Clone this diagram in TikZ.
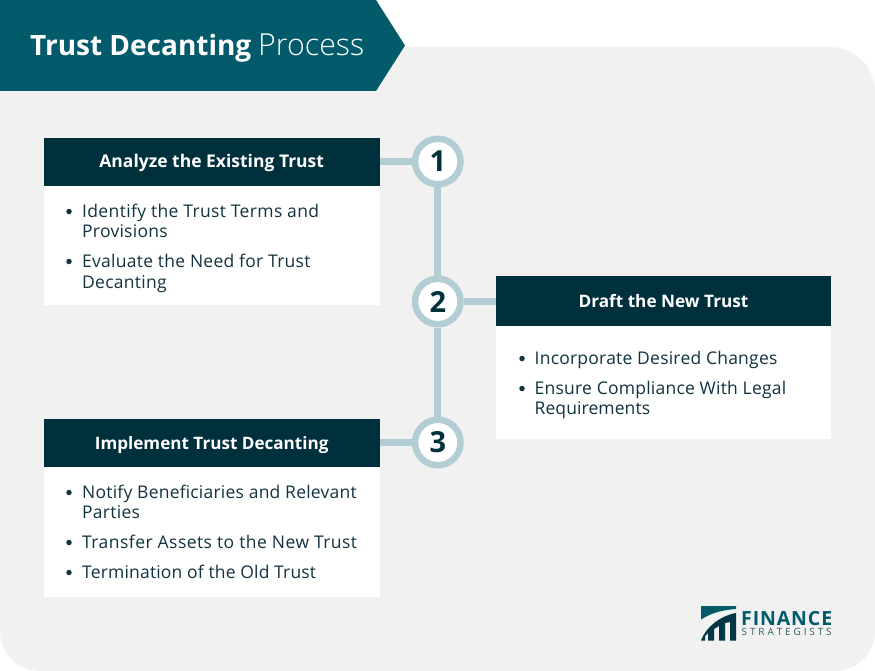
\documentclass[tikz,border=0pt]{standalone}
\usepackage{fontspec}
\setmainfont{Open Sans}
\newfontfamily\lightf{Open Sans Light}
\definecolor{teal1}{HTML}{025A6B}
\definecolor{navy}{HTML}{01303D}
\definecolor{ring}{HTML}{B2CDD4}
\definecolor{bgg}{HTML}{F1F1F1}
\definecolor{body}{HTML}{12333F}
\tikzset{
 x=1pt,y=-1pt,
 headbox/.style={fill=navy,draw=none},
 bodybox/.style={fill=white,draw=none},
 headtxt/.style={text=white,font=\fontsize{#1}{20}\selectfont\bfseries,anchor=center,inner sep=0pt},
 line/.style={text=body,font=\fontsize{17.5}{20}\selectfont\addfontfeatures{LetterSpace=#1},anchor=base west,inner sep=0pt},
 dot/.style={circle,fill=body,inner sep=0pt,minimum size=5.5pt},
 numc/.style={circle,draw=ring,line width=6.5pt,fill=white,minimum size=45.5pt,inner sep=0pt,text=navy,font=\fontsize{29}{30}\selectfont\bfseries},
 conn/.style={draw=ring,line width=6.7pt},
}
\begin{document}
\begin{tikzpicture}
\useasboundingbox (0,0) rectangle (875,671);
\fill[white] (0,0) rectangle (875,671);
\fill[bgg] (0,47) -- (830,47) arc[start angle=90,end angle=0,x radius=45,y radius=-45] -- (875,631) arc[start angle=0,end angle=-90,x radius=40,y radius=-40] -- (40,671) arc[start angle=-90,end angle=-180,x radius=40,y radius=-40] -- cycle;
\fill[teal1] (0,0) -- (376,0) -- (405,45.5) -- (376,91) -- (0,91) -- cycle;
\node[anchor=base west,inner sep=0pt,text=white] (title) at (30,56) {\fontsize{28}{32}\selectfont\bfseries Trust Decanting};
\node[anchor=base west,inner sep=0pt,text=white] (title2) at (258,56) {\fontsize{30.3}{32}\lightf\selectfont Process};
% connectors
\coordinate (h1) at (379,161.5);
\coordinate (h2) at (496,301.5);
\coordinate (h3) at (379,442.5);
\node[numc] (n1) at (437.8,161.5) {1};
\node[numc] (n2) at (437.8,301.5) {2};
\node[numc] (n3) at (437.8,442.5) {3};
\draw[conn] (n1) -- (n2);
\draw[conn] (n2) -- (n3);
\draw[conn] (n1) -- (h1);
\draw[conn] (n2) -- (h2);
\draw[conn] (n3) -- (h3);
% boxes
\fill[bodybox] (44,186) rectangle (379.5,305);
\fill[headbox] (44,138) rectangle (379.5,186);
\node[headtxt=17.5] (a) at (211.7,163) {Analyze the Existing Trust};
\fill[bodybox] (496,326) rectangle (831,439);
\fill[headbox] (496,275.5) rectangle (831,326);
\node[headtxt=17.2] (b) at (663.5,301.5) {Draft the New Trust};
\fill[bodybox] (44,467) rectangle (379.5,597);
\fill[headbox] (44,419) rectangle (379.5,467);
\node[headtxt=17.1] (c) at (211.7,445) {Implement Trust Decanting};
% text
\node[dot] (d1) at (69,211.5) {}; \node[line=2] (t1) at (82,218) {Identify the Trust Terms and};
\node[line=1.5] (t2) at (82,237.5) {Provisions};
\node[dot] (d2) at (69,261.5) {}; \node[line=1.5] (t3) at (82,267.5) {Evaluate the Need for Trust};
\node[line=1.5] (t4) at (82,288) {Decanting};
\node[dot] (d3) at (522,358.5) {}; \node[line=1.3] (t5) at (534.5,364) {Incorporate Desired Changes};
\node[dot] (d4) at (522,388.5) {}; \node[line=1.3] (t6) at (534.5,394) {Ensure Compliance With Legal};
\node[line=0.5] (t7) at (534.5,414) {Requirements};
\node[dot] (d5) at (69,492.5) {}; \node[line=1.3] (t8) at (82,498) {Notify Beneficiaries and Relevant};
\node[line=1.5] (t9) at (82,518) {Parties};
\node[dot] (d6) at (69,542.5) {}; \node[line=2.6] (t10) at (82,548) {Transfer Assets to the New Trust};
\node[dot] (d7) at (69,572.5) {}; \node[line=1.0] (t11) at (82,578) {Termination of the Old Trust};
% logo
\fill[teal1] (701,606) -- (736,606) -- (736,609) .. controls (722,610) and (711,613) .. (701,619.5) -- cycle;
\fill[navy!85!teal1] (701,640.5) .. controls (706,627) and (720,616) .. (736,613) -- (736,640.5) -- (730,640.5) -- (730,622) -- (725,623) -- (725,640.5) -- (719,640.5) -- (719,626) -- (714,629) -- (714,640.5) -- (708,640.5) -- (708,633) -- (705,636) -- (705,640.5) -- cycle;
\node[anchor=base west,inner sep=0pt,text=teal1,font=\fontsize{19.5}{22}\selectfont\bfseries] (f) at (741,625.7) {\makebox[91pt][s]{F\hfill I\hfill N\hfill A\hfill N\hfill C\hfill E}};
\node[anchor=base west,inner sep=0pt,text=navy!80,font=\fontsize{10}{12}\selectfont] (s) at (741.5,635.8) {\makebox[90pt][s]{S\hfill T\hfill R\hfill A\hfill T\hfill E\hfill G\hfill I\hfill S\hfill T\hfill S}};
\end{tikzpicture}
\end{document}
